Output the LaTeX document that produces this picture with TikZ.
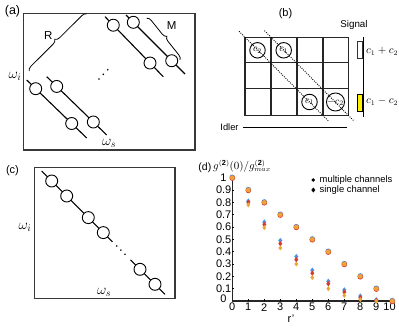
\documentclass[tikz,border=0pt]{standalone}
\usepackage{fontspec}
\setmainfont{Liberation Sans}
\usetikzlibrary{calc,decorations.pathreplacing}
\definecolor{framegray}{HTML}{383838}
\definecolor{dblue}{HTML}{4D94EA}
\definecolor{dred}{HTML}{D23A2C}
\definecolor{dorange}{HTML}{EDA33A}
\definecolor{sigyellow}{HTML}{FFF000}
\newcommand{\fs}[1]{\fontsize{#1}{#1}\selectfont}
\begin{document}
\begin{tikzpicture}[x=1pt,y=-1pt,
  frame/.style={draw=framegray,line width=1.5pt,inner sep=0pt},
  wline/.style={line width=1.1pt,black},
  ring/.style={circle,draw=black,line width=0.9pt,fill=white,minimum size=12pt,inner sep=0pt},
  bring/.style={circle,draw=black,line width=0.9pt,minimum size=15.5pt,inner sep=0pt,font=\fs{10}},
  lbl/.style={inner sep=0pt},
  brc/.style={decorate,decoration={brace,amplitude=4.5pt},line width=0.8pt},
  dotline/.style={line width=0.9pt,dash pattern=on 0.9pt off 1.3pt},
  gridl/.style={line width=1.2pt,black!85},
  axisl/.style={line width=1.1pt,black!85},
]
\useasboundingbox (0,0) rectangle (399,329);

% ---------------- (a)
\node[lbl,font=\fs{12.5}] (la) at (12.5,11.5) {(a)};
\node[frame,minimum width=171.7pt,minimum height=136.7pt] (boxa) at (109.15,81.65) {};
\coordinate (l1s) at (26.7,80);   \coordinate (l1e) at (86.7,138);
\coordinate (l2s) at (46.7,76.7); \coordinate (l2e) at (106.7,135);
\coordinate (l3s) at (105,16.7);  \coordinate (l3e) at (163.3,76.7);
\coordinate (l4s) at (126,15);    \coordinate (l4e) at (185,74);
\draw[wline] (l1s) -- (l1e);
\draw[wline] (l2s) -- (l2e);
\draw[wline] (l3s) -- (l3e);
\draw[wline] (l4s) -- (l4e);
\node[ring] (a11) at ($(l1s)!0.15!(l1e)$) {};
\node[ring] (a12) at ($(l1s)!0.75!(l1e)$) {};
\node[ring] (a21) at ($(l2s)!0.167!(l2e)$) {};
\node[ring] (a22) at ($(l2s)!0.777!(l2e)$) {};
\node[ring] (a31) at ($(l3s)!0.142!(l3e)$) {};
\node[ring] (a32) at ($(l3s)!0.772!(l3e)$) {};
\node[ring] (a41) at ($(l4s)!0.124!(l4e)$) {};
\node[ring] (a42) at ($(l4s)!0.775!(l4e)$) {};
\fill (99,79) circle[radius=0.9pt];
\fill (103.3,74.3) circle[radius=0.9pt];
\fill (107.7,69.7) circle[radius=0.9pt];
\coordinate (rb1) at (29.3,71); \coordinate (rb2) at (86.7,14);
\draw[brc] (rb1) -- (rb2);
\node[lbl,font=\fs{11.5}] (rl) at (48.3,35.5) {R};
\coordinate (mb1) at (146.7,18.3); \coordinate (mb2) at (180,60);
\draw[brc] (mb1) -- (mb2);
\node[lbl,font=\fs{11.5}] (ml) at (171.7,25.5) {M};
\node[lbl,font=\fs{14}] (wia) at (15,76.5) {$\omega_i$};
\node[lbl,font=\fs{14}] (wsa) at (109,143.5) {$\omega_s$};

% ---------------- (b)
\node[lbl,font=\fs{11}] (lb) at (285.5,14) {(b)};
\node[lbl,font=\fs{9.8}] (sig) at (354,25) {Signal};
\draw[gridl] (245,37.3) rectangle (348.3,115.3);
\foreach \x in {271,297,323} \draw[gridl] (\x,37.3) -- (\x,115.3);
\foreach \y in {62.7,88.7} \draw[gridl] (245,\y) -- (348.3,\y);
\coordinate (dA1) at (239,31.3); \coordinate (dA2) at (329,121.5);
\coordinate (dB1) at (264.5,30.7); \coordinate (dB2) at (354,121);
\draw[dotline] (dA1) -- (dA2);
\draw[dotline] (dB1) -- (dB2);
\node[bring] (bc2) at (257.5,50.3) {$c_2$};
\node[bring] (bc1) at (283.7,50.3) {$c_1$};
\node[bring] (bc1b) at (309.5,102) {$c_1$};
\node[bring] (bmc2) at (335.5,102) {$-c_2$};
\coordinate (sbt) at (363.3,37.3); \coordinate (sbb) at (363.3,116.7);
\draw[line width=1.1pt] (sbt) -- (sbb);
\node[draw=black!80,line width=1pt,minimum width=5.4pt,minimum height=16.6pt,inner sep=0pt] (sp) at (360,50) {};
\node[draw=black,fill=sigyellow,line width=1pt,minimum width=5.4pt,minimum height=16.7pt,inner sep=0pt] (sm) at (360,103.3) {};
\node[lbl,anchor=west,font=\fs{10.5}] (lp) at (366,51) {$c_1+c_2$};
\node[lbl,anchor=west,font=\fs{10.5}] (lm) at (366,101) {$c_1-c_2$};
\node[lbl,font=\fs{9.3}] (idl) at (229.5,127) {Idler};
\coordinate (il1) at (243.3,127.3); \coordinate (il2) at (346.7,127.3);
\draw[line width=1.2pt] (il1) -- (il2);

% ---------------- (c)
\node[lbl,font=\fs{11}] (lc) at (12.5,171) {(c)};
\node[frame,minimum width=140.7pt,minimum height=130.6pt] (boxc) at (104.65,233) {};
\coordinate (cs) at (41.7,171); \coordinate (cm1) at (112.5,241.8);
\coordinate (cm2) at (130.5,259.8); \coordinate (ce) at (165,294.3);
\draw[wline] (cs) -- (cm1);
\draw[wline] (cm2) -- (ce);
\fill (116.7,246) circle[radius=0.9pt];
\fill (120.8,250.1) circle[radius=0.9pt];
\fill (125,254.3) circle[radius=0.9pt];
\node[ring] (cc1) at (51.7,181) {};
\node[ring] (cc2) at (66.7,196) {};
\node[ring] (cc3) at (88.3,217.6) {};
\node[ring] (cc4) at (103.3,232.6) {};
\node[ring] (cc5) at (140,269.3) {};
\node[ring] (cc6) at (155,284.3) {};
\node[lbl,font=\fs{14}] (wic) at (25,227.7) {$\omega_i$};
\node[lbl,font=\fs{14}] (wsc) at (104,292.5) {$\omega_s$};

% ---------------- (d)
\node[lbl,anchor=base east,font=\fs{10.5}] (ld) at (211.5,170.5) {(d)};
\node[lbl,anchor=base west,font=\fs{10.5}] (gt) at (213,169) {$g^{\mathbf{(2)}}(0)/g^{\mathbf{(2)}}_{max}$};
\coordinate (ytop) at (232.3,177.7); \coordinate (orig) at (232.3,301); \coordinate (xend) at (393.5,301);
\draw[axisl] (ytop) -- (orig) -- (xend);
\foreach \v in {1,...,10} \draw[line width=0.8pt] (232.3,{301-12.33*\v}) -- ++(2pt,0pt);
\foreach \r in {1,...,10} \draw[line width=0.8pt] ({232.3+16*\r},301) -- ++(0pt,2pt);
\foreach \v in {1,...,9} \node[lbl,anchor=east,font=\fs{11}] (yl\v) at (231.5,{301-12.33*\v}) {0.\v};
\node[lbl,anchor=east,font=\fs{11}] (yl10) at (226.7,178.2) {1};
\node[lbl,anchor=east,font=\fs{11}] (yl0) at (226.7,298.3) {0};
\foreach \r in {0,...,9} \node[lbl,font=\fs{11}] (xl\r) at ({232.3+16*\r},307.2) {\r};
\node[lbl,font=\fs{11}] (xl10) at (389.5,307.2) {10};
\node[lbl,font=\fs{11}] (rp) at (291,318.5) {r’};
% legend
\fill (313.3,180) circle[radius=1.9pt];
\node[lbl,anchor=west,font=\fs{9.4}] (lg1) at (319.5,180.5) {multiple channels};
\fill (313.3,187.5) -- (315.3,190) -- (313.3,192.5) -- (311.3,190) -- cycle;
\node[lbl,anchor=west,font=\fs{9.4}] (lg2) at (319.5,190.5) {single channel};
% data
\foreach \r/\b/\d/\o in {0/1/1/1, 1/0.81/0.80/0.78, 2/0.64/0.62/0.595, 3/0.49/0.465/0.43, 4/0.36/0.335/0.30, 5/0.25/0.225/0.19, 6/0.16/0.14/0.10, 7/0.09/0.072/0.045, 8/0.04/0.027/0.012, 9/0.01/0.005/0.0, 10/0/0/0}{
  \fill[dblue] ({232.3+16*\r},{301-123.3*\b}) +(0pt,-2.7pt) -- +(2.1pt,0pt) -- +(0pt,2.7pt) -- +(-2.1pt,0pt) -- cycle;
  \fill[dred] ({232.3+16*\r},{301-123.3*\d}) +(0pt,-2.6pt) -- +(2pt,0pt) -- +(0pt,2.6pt) -- +(-2pt,0pt) -- cycle;
  \fill[dorange] ({232.3+16*\r},{301-123.3*\o}) +(0pt,-2.5pt) -- +(1.9pt,0pt) -- +(0pt,2.5pt) -- +(-1.9pt,0pt) -- cycle;
}
\foreach \r in {0,...,10}{
  \fill[dblue] ({232.3+16*\r},{301-123.3*(1-0.1*\r)-0.4}) circle[radius=2.8pt];
  \fill[dred] ({232.3+16*\r},{301-123.3*(1-0.1*\r)+0.4}) circle[radius=2.8pt];
  \fill[dorange] ({232.3+16*\r},{301-123.3*(1-0.1*\r)}) circle[radius=2.4pt];
}
\end{tikzpicture}
\end{document}
